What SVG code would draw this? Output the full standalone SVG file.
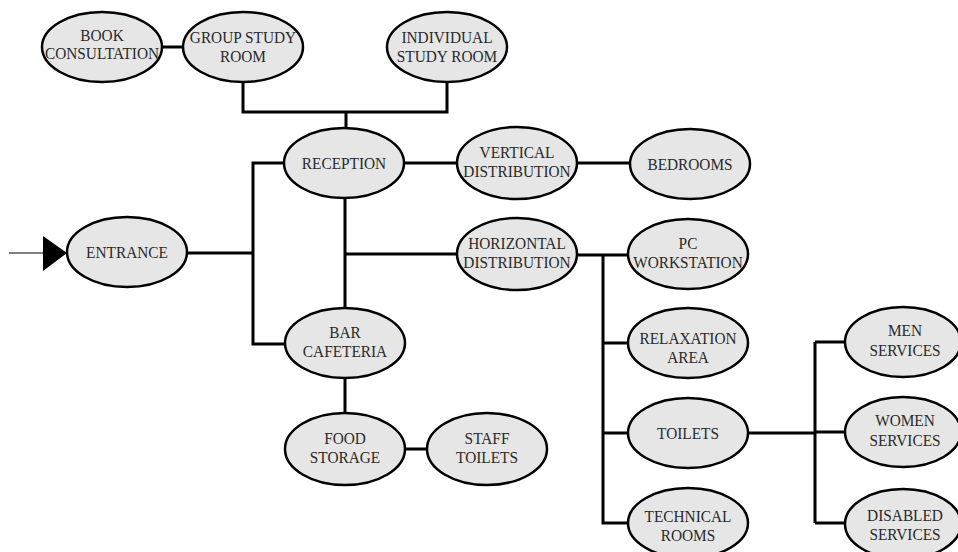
<svg xmlns="http://www.w3.org/2000/svg" width="958" height="552" viewBox="0 0 958 552">
<style>
.n ellipse{fill:#e6e6e6;stroke:#000;stroke-width:2.5}
.n text{fill:#2a2a2a;text-anchor:middle;font-family:'Liberation Serif','Times New Roman',serif;font-size:16.5px}
.c path{fill:none;stroke:#000;stroke-width:3}
</style>
<rect width="958" height="552" fill="#fff"/>
<g class="c" id="connectors">
<path d="M162 47H183"/>
<path d="M243 82V112H447V82M346 112V128"/>
<path d="M187 253H253M284 163H253V344H285"/>
<path d="M405 163H457M577 163H630"/>
<path d="M345 199V308M345 254H457"/>
<path d="M345 378V413M405 449H427"/>
<path d="M577 255H628M603 255V523H628M603 343H628M603 433H628"/>
<path d="M748 433H815M815 342V523M815 342H845M815 432H845M815 523H845"/>
<path d="M9 253H45" style="stroke-width:1"/>
<polygon points="43,236 67,253 43,271" fill="#000"/>
</g>
<g class="n" id="book"><ellipse cx="102" cy="47" rx="60" ry="35"/><text transform="translate(102 41) scale(0.93 1)">BOOK</text><text transform="translate(102 59) scale(0.93 1)">CONSULTATION</text></g>
<g class="n" id="group"><ellipse cx="243" cy="47" rx="60" ry="35"/><text transform="translate(243 43) scale(0.93 1)">GROUP STUDY</text><text transform="translate(243 62) scale(0.93 1)">ROOM</text></g>
<g class="n" id="individual"><ellipse cx="447" cy="47" rx="60" ry="35"/><text transform="translate(447 43) scale(0.93 1)">INDIVIDUAL</text><text transform="translate(447 62) scale(0.93 1)">STUDY ROOM</text></g>
<g class="n" id="reception"><ellipse cx="344" cy="163" rx="60" ry="35"/><text transform="translate(344 169) scale(0.93 1)">RECEPTION</text></g>
<g class="n" id="vertical"><ellipse cx="517" cy="163" rx="60" ry="36"/><text transform="translate(517 158) scale(0.93 1)">VERTICAL</text><text transform="translate(517 177) scale(0.93 1)">DISTRIBUTION</text></g>
<g class="n" id="bedrooms"><ellipse cx="690" cy="164" rx="60" ry="35"/><text transform="translate(690 170) scale(0.93 1)">BEDROOMS</text></g>
<g class="n" id="entrance"><ellipse cx="127" cy="252" rx="60" ry="35"/><text transform="translate(127 258) scale(0.93 1)">ENTRANCE</text></g>
<g class="n" id="horizontal"><ellipse cx="517" cy="254" rx="60" ry="36"/><text transform="translate(517 249) scale(0.93 1)">HORIZONTAL</text><text transform="translate(517 268) scale(0.93 1)">DISTRIBUTION</text></g>
<g class="n" id="pc"><ellipse cx="688" cy="254" rx="60" ry="35"/><text transform="translate(688 249) scale(0.93 1)">PC</text><text transform="translate(688 268) scale(0.93 1)">WORKSTATION</text></g>
<g class="n" id="bar"><ellipse cx="345" cy="343" rx="60" ry="35"/><text transform="translate(345 338) scale(0.93 1)">BAR</text><text transform="translate(345 357) scale(0.93 1)">CAFETERIA</text></g>
<g class="n" id="food"><ellipse cx="345" cy="449" rx="60" ry="36"/><text transform="translate(345 444) scale(0.93 1)">FOOD</text><text transform="translate(345 463) scale(0.93 1)">STORAGE</text></g>
<g class="n" id="staff"><ellipse cx="487" cy="449" rx="60" ry="36"/><text transform="translate(487 444) scale(0.93 1)">STAFF</text><text transform="translate(487 463) scale(0.93 1)">TOILETS</text></g>
<g class="n" id="relaxation"><ellipse cx="688" cy="343" rx="60" ry="35"/><text transform="translate(688 344) scale(0.93 1)">RELAXATION</text><text transform="translate(688 363) scale(0.93 1)">AREA</text></g>
<g class="n" id="toilets"><ellipse cx="688" cy="433" rx="60" ry="35"/><text transform="translate(688 439) scale(0.93 1)">TOILETS</text></g>
<g class="n" id="technical"><ellipse cx="688" cy="523" rx="60" ry="35"/><text transform="translate(688 522) scale(0.93 1)">TECHNICAL</text><text transform="translate(688 541) scale(0.93 1)">ROOMS</text></g>
<g class="n" id="men"><ellipse cx="903" cy="342" rx="58" ry="35"/><text transform="translate(905 336) scale(0.93 1)">MEN</text><text transform="translate(905 356) scale(0.93 1)">SERVICES</text></g>
<g class="n" id="women"><ellipse cx="903" cy="432" rx="58" ry="35"/><text transform="translate(905 426) scale(0.93 1)">WOMEN</text><text transform="translate(905 446) scale(0.93 1)">SERVICES</text></g>
<g class="n" id="disabled"><ellipse cx="903" cy="524" rx="58" ry="35"/><text transform="translate(905 521) scale(0.93 1)">DISABLED</text><text transform="translate(905 540) scale(0.93 1)">SERVICES</text></g>
</svg>
